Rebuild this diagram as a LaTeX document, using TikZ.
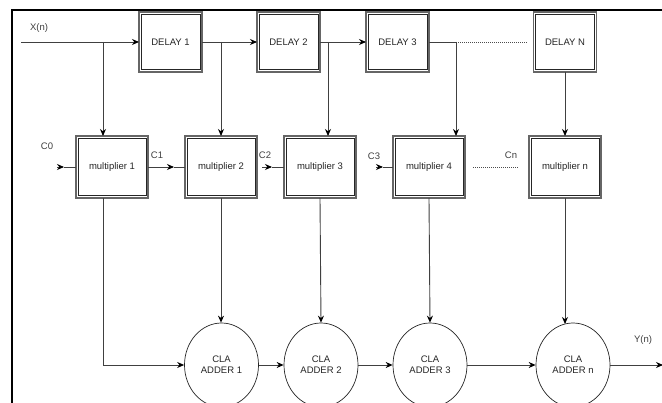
\documentclass[tikz,border=0pt]{standalone}
\usepackage{fontspec}
\setmainfont{Liberation Sans}
\usetikzlibrary{shapes.geometric,arrows.meta,calc}
\begin{document}
\begin{tikzpicture}[x=1pt,y=-1pt,
  font=\fontsize{9.5}{11}\selectfont,
  wire/.style={draw=black!75, line width=0.9pt},
  arr/.style={wire, -{Stealth[length=7pt,width=6pt,color=black]}},
  dotwire/.style={draw=black!70, line width=0.6pt, dash pattern=on 1pt off 1pt},
  dblbox/.style={draw=black!60, line width=1.3pt, inner sep=0pt, outer sep=0pt, text=black!85,
    path picture={\draw[black!85, line width=0.6pt]
      ([shift={(2.2pt,-2.2pt)}]path picture bounding box.north west) rectangle
      ([shift={(-2.2pt,2.2pt)}]path picture bounding box.south east);}},
  delaybox/.style={dblbox, minimum width=63, minimum height=60},
  multbox/.style={dblbox, minimum width=72, minimum height=62},
  adder/.style={ellipse, draw=black!85, line width=0.7pt, minimum width=74, minimum height=84, inner sep=0pt, align=center, text=black!85},
  lbl/.style={text=black!75, inner sep=0pt}]
\useasboundingbox (0,0) rectangle (662,403);
\fill[white] (0,0) rectangle (662,403);
% frame
\draw[line width=1.6pt] (12,403) -- (12,10) -- (663,10);
% delays
\node[delaybox] (d1) at (170.5,42) {DELAY 1};
\node[delaybox] (d2) at (288.5,42) {DELAY 2};
\node[delaybox] (d3) at (397.5,42) {DELAY 3};
\node[delaybox] (dn) at (565,42) {DELAY N};
% multipliers
\node[multbox] (m1) at (112,167) {multiplier 1};
\node[multbox] (m2) at (221,167) {multiplier 2};
\node[multbox] (m3) at (320,167) {multiplier 3};
\node[multbox] (m4) at (429,167) {multiplier 4};
\node[multbox] (mn) at (565,167) {multiplier n};
% adders
\node[adder] (a1) at (221.5,365) {CLA\\ADDER 1};
\node[adder] (a2) at (321,365) {CLA\\ADDER 2};
\node[adder] (a3) at (430,365) {CLA\\ADDER 3};
\node[adder] (an) at (573,365) {CLA\\ADDER n};
% coordinates
\coordinate (xin) at (21,42);
\coordinate (tap0) at (103,42);
\coordinate (tap1) at (221,42);
\coordinate (tap2) at (328,42);
\coordinate (tap3) at (456,42);
\coordinate (dotend) at (528,42);
\coordinate (c0s) at (57,167);
\coordinate (c0m) at (64,167);
\coordinate (c1m) at (174,167);
\coordinate (c2s) at (262,167);
\coordinate (c2m) at (272,167);
\coordinate (c3s) at (376,167);
\coordinate (c3m) at (383,167);
\coordinate (cns) at (473,167);
\coordinate (cne) at (519,167);
\coordinate (anin) at (565,324);
\coordinate (yout) at (663,365);
% labels
\node[lbl] (lx) at (39,28) {X(n)};
\node[lbl] (lc0) at (47,146) {C0};
\node[lbl] (lc1) at (157,155) {C1};
\node[lbl] (lc2) at (265,155) {C2};
\node[lbl] (lc3) at (374,156) {C3};
\node[lbl] (lcn) at (511,155) {Cn};
\node[lbl] (ly) at (643,340) {Y(n)};
% top chain
\draw[arr] (xin) -- (d1.west);
\draw[arr] (d1.east) -- (d2.west);
\draw[arr] (d2.east) -- (d3.west);
\draw[wire] (d3.east) -- (tap3);
\draw[dotwire] (tap3) -- (dotend);
% taps
\draw[arr] (tap0) -- (tap0 |- m1.north);
\draw[arr] (tap1) -- (tap1 |- m2.north);
\draw[arr] (tap2) -- (tap2 |- m3.north);
\draw[arr] (tap3) -- (tap3 |- m4.north);
\draw[arr] (dn.south) -- (mn.north);
% carries
\draw[arr] (c0s) -- (c0m);
\draw[wire] (c0m) -- (m1.west);
\draw[arr] (m1.east) -- (c1m);
\draw[wire] (c1m) -- (m2.west);
\draw[arr] (c2s) -- (c2m);
\draw[wire] (c2m) -- (m3.west);
\draw[arr] (c3s) -- (c3m);
\draw[wire] (c3m) -- (m4.west);
\draw[dotwire] (cns) -- (cne);
% to adders
\draw[arr] (tap0 |- m1.south) |- (a1.west);
\draw[arr] (m2.south) -- (m2.south |- a1.north);
\draw[arr] (m3.south) -- (a2.north);
\draw[arr] (m4.south) -- (a3.north);
\draw[arr] (mn.south) -- (anin);
% adder chain
\draw[arr] (a1.east) -- (a2.west);
\draw[arr] (a2.east) -- (a3.west);
\draw[arr] (a3.east) -- (an.west);
\draw[arr] (an.east) -- (yout);
\end{tikzpicture}
\end{document}
